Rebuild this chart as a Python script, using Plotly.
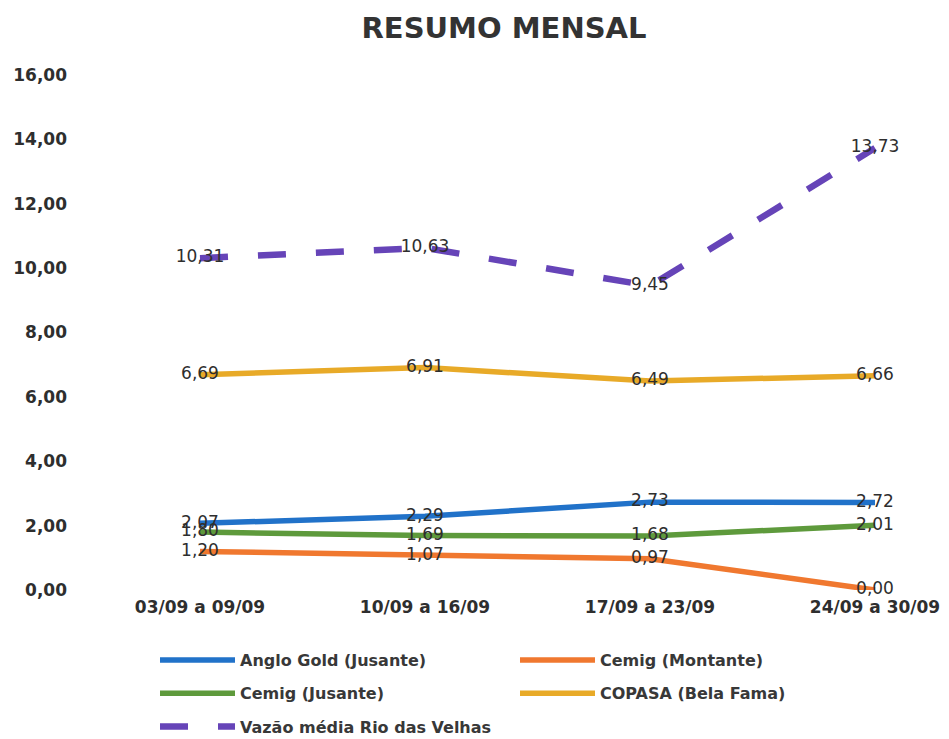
import plotly.graph_objects as go

# Weekly periods and monthly summary values
periods = ["03/09 a 09/09", "10/09 a 16/09", "17/09 a 23/09", "24/09 a 30/09"]
anglo_jusante = [2.07, 2.29, 2.73, 2.72]
cemig_montante = [1.20, 1.07, 0.97, 0.00]
cemig_jusante = [1.80, 1.69, 1.68, 2.01]
copasa_bela_fama = [6.69, 6.91, 6.49, 6.66]
vazao_rio_velhas = [10.31, 10.63, 9.45, 13.73]
y_ticks = [0, 2, 4, 6, 8, 10, 12, 14, 16]

series = [
    ("Anglo Gold (Jusante)", anglo_jusante, "#2172c9", "solid", 5.5, "legend", "g1"),
    ("Cemig (Montante)", cemig_montante, "#f0782f", "solid", 5.5, "legend2", "g2"),
    ("Cemig (Jusante)", cemig_jusante, "#5e9a3c", "solid", 5.5, "legend", "g3"),
    ("COPASA (Bela Fama)", copasa_bela_fama, "#e8aa28", "solid", 5.5, "legend2", "g4"),
    ("Vazão média Rio das Velhas", vazao_rio_velhas, "#6644b8", "28px,30px", 6.5, "legend", "g5"),
]

x_idx = list(range(len(periods)))


def fmt(v):
    return f"{v:.2f}".replace(".", ",")


fig = go.Figure()
for name, vals, color, dash, width, leg, grp in series:
    fig.add_trace(go.Scatter(
        x=x_idx, y=vals, name=name, mode="lines+text",
        text=[fmt(v) for v in vals], textposition="middle center",
        textfont=dict(family="DejaVu Sans", size=17, color="#2e2e2e"),
        line=dict(color=color, width=width, dash=dash),
        legend=leg, legendgroup=grp, cliponaxis=False,
    ))

axis_font = dict(family="DejaVu Sans", size=17, color="#2e2e2e", weight="bold")

legend_style = dict(
    xref="container", yref="container", xanchor="left", yanchor="top",
    orientation="v", bgcolor="rgba(0,0,0,0)", tracegroupgap=9.5,
    font=dict(family="DejaVu Sans", size=16, color="#383838", weight="bold"),
    itemwidth=75,
)

fig.update_layout(
    width=949, height=739,
    paper_bgcolor="white", plot_bgcolor="white",
    margin=dict(l=68, r=20, t=75, b=149, autoexpand=False),
    separators=", ",
    title=dict(text="<b>RESUMO MENSAL</b>", x=504 / 949, xanchor="center",
               y=1 - 28 / 739, yanchor="middle", yref="container",
               font=dict(family="DejaVu Sans", size=29, color="#333333")),
    xaxis=dict(range=[-0.5867, 3.24], tickmode="array", tickvals=x_idx,
               ticktext=periods, showgrid=False, zeroline=False,
               showline=False, ticks="", automargin=False,
               ticklabelstandoff=5, tickfont=axis_font),
    yaxis=dict(range=[0, 16], tickmode="array", tickvals=y_ticks,
               tickformat=".2f", showgrid=False, zeroline=False,
               showline=False, ticks="", automargin=False,
               tickfont=axis_font),
    legend=dict(x=155 / 949, y=1 - 643 / 739, **legend_style),
    legend2=dict(x=515 / 949, y=1 - 643 / 739, **legend_style),
    showlegend=True,
)

fig.write_html("out.html")
